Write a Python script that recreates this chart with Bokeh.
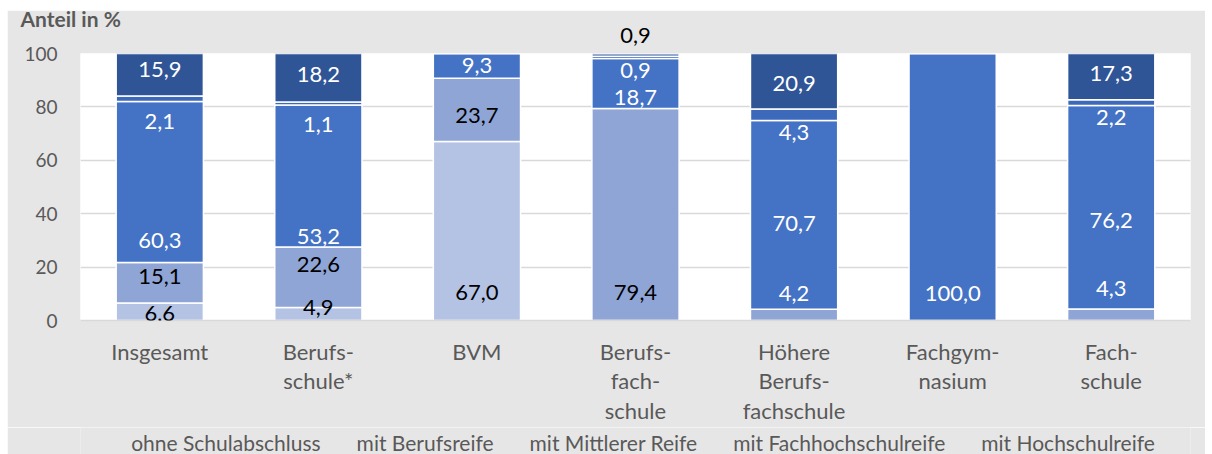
from bokeh.plotting import figure
from bokeh.models import (FactorRange, Range1d, FixedTicker, LabelSet, ColumnDataSource,
                          Legend, LegendItem, Title, CategoricalAxis)
from bokeh.layouts import column
from bokeh.core.properties import value
from bokeh.embed import file_html
from bokeh.resources import INLINE

# ---------------- data ----------------
categories = ["Insgesamt", "Berufs-\nschule*", "BVM", "Berufs-\nfach-\nschule",
              "Höhere\nBerufs-\nfachschule", "Fachgym-\nnasium", "Fach-\nschule"]
series_names = ["ohne Schulabschluss", "mit Berufsreife", "mit Mittlerer Reife",
                "mit Fachhochschulreife", "mit Hochschulreife"]
ohne = [6.6, 4.9, 67.0, 0.0, 0.0, 0.0, 0.0]
berufsreife = [15.1, 22.6, 23.7, 79.4, 4.2, 0.0, 4.3]
mittlere = [60.3, 53.2, 9.3, 18.7, 70.7, 100.0, 76.2]
fachhoch = [2.1, 1.1, 0.0, 0.9, 4.3, 0.0, 2.2]
hochschul = [15.9, 18.2, 0.0, 0.9, 20.9, 0.0, 17.3]
y_ticks = [0, 20, 40, 60, 80, 100]

# label placement (data units, as placed in the original chart); None = no label
# values above 100 are shown above the plot area
label_pos = [
    [2.5, 5.0, 10.5, None, None, None, None],
    [16.5, 21.0, 76.8, 10.5, 10.1, None, 12.1],
    [30.0, 31.5, 95.5, 83.6, 36.3, 10.1, 37.5],
    [74.5, 73.4, None, 93.6, 70.5, None, 76.2],
    [94.0, 92.1, None, 104.9, 88.8, None, 92.4],
]

# ---------------- style ----------------
colors = ["#b4c2e4", "#8fa5d6", "#4472c4", "#3d69bb", "#2f5597"]
GRAY_BG = "#e7e6e6"
TEXT = "#595959"
FONT = "Lato"

def fmt(v):
    return f"{v:.1f}".replace(".", ",")

keys = ["s0", "s1", "s2", "s3", "s4"]
values = [ohne, berufsreife, mittlere, fachhoch, hochschul]
src = ColumnDataSource(dict(cat=categories, **{k: v for k, v in zip(keys, values)}))

p = figure(x_range=FactorRange(*categories, range_padding=0), y_range=Range1d(0, 100),
           frame_width=1110, frame_height=267, output_backend="svg", toolbar_location=None,
           min_border_left=73, min_border_right=15, min_border_top=43, min_border_bottom=107)
p.margin = (10, 0, 0, 7)
p.background_fill_color = "white"
p.border_fill_color = GRAY_BG
p.outline_line_color = None

p.title = Title(text="Anteil in %", align="left", offset=-60, standoff=-27, text_font=FONT,
                text_font_size="21px", text_font_style="bold", text_color=TEXT)

rs = p.vbar_stack(keys, x="cat", width=0.55, color=colors, source=src,
                  line_color="white", line_width=1.5)

# labels inside the plot area
lx, ly, lt, lc = [], [], [], []
top_text = ["" for c in categories]
for si, (vals, pos) in enumerate(zip(values, label_pos)):
    for ci, (v, yp) in enumerate(zip(vals, pos)):
        if yp is None:
            continue
        if yp > 100:
            top_text[ci] = fmt(v)
            continue
        cum = 0.0
        under = None
        for sj in range(len(values)):
            h = values[sj][ci]
            if h > 0 and cum <= yp <= cum + h:
                under = sj
            cum += h
        col = "black" if (under is None or under <= 1) else "white"
        lx.append(categories[ci]); ly.append(yp)
        lt.append(fmt(v)); lc.append(col)
lsrc = ColumnDataSource(dict(x=lx, y=ly, t=lt, c=lc))
p.add_layout(LabelSet(x="x", y="y", text="t", source=lsrc, text_color="c",
                      text_align="center", text_baseline="middle",
                      text_font=value(FONT), text_font_size=value("22px")))

# labels above the plot area, via a label-only axis on top (unique blank factors)
top_factors = [t if t else " " * (i + 1) for i, t in enumerate(top_text)]
p.extra_x_ranges = {"top": FactorRange(*top_factors, range_padding=0)}
top_axis = CategoricalAxis(x_range_name="top", axis_line_color=None,
                           major_tick_line_color=None, minor_tick_line_color=None,
                           major_label_text_font=FONT, major_label_text_font_size="22px",
                           major_label_text_color="black", major_label_standoff=0)
p.add_layout(top_axis, "above")

# axes
p.yaxis.ticker = FixedTicker(ticks=y_ticks)
p.yaxis.axis_line_color = None
p.yaxis.major_tick_line_color = None
p.yaxis.minor_tick_line_color = None
p.yaxis.major_label_text_font = FONT
p.yaxis.major_label_text_font_size = "19px"
p.yaxis.major_label_text_color = TEXT
p.yaxis.major_label_standoff = 17

xa = p.below[0]
xa.axis_line_color = "#d9d9d9"
xa.axis_line_width = 1.5
xa.major_tick_line_color = None
xa.minor_tick_line_color = None
xa.major_label_text_font = FONT
xa.major_label_text_font_size = "22px"
xa.major_label_text_color = TEXT
xa.major_label_text_line_height = 1.1
xa.major_label_standoff = 11

p.xgrid.grid_line_color = None
p.ygrid.grid_line_color = "#d9d9d9"
p.ygrid.grid_line_width = 1.5

# ---------------- legend strip (separate small figure below) ----------------
pl = figure(width=1198, height=30, x_range=Range1d(0, 1), y_range=Range1d(0, 1),
            x_axis_type=None, y_axis_type=None, output_backend="svg", toolbar_location=None,
            min_border=0)
pl.margin = (0, 0, 0, 7)
pl.background_fill_color = GRAY_BG
pl.border_fill_color = GRAY_BG
pl.outline_line_color = None
pl.xgrid.visible = False
pl.ygrid.visible = False
lrs = [pl.vbar(x=[], top=[], width=0.5, color=c, line_color="white", line_width=1)
       for c in colors]
items = [LegendItem(label=n, renderers=[r]) for n, r in zip(series_names, lrs)]
legend = Legend(items=items, orientation="horizontal", location="bottom_center",
                background_fill_alpha=0, border_line_alpha=0,
                label_text_font=FONT, label_text_font_size="21px", label_text_color=TEXT,
                glyph_width=12, glyph_height=12, label_standoff=4, spacing=20,
                label_height=20, padding=0, margin=2)
pl.add_layout(legend)

layout = column(p, pl, spacing=0)
open("out.html", "w").write(file_html(layout, INLINE))
